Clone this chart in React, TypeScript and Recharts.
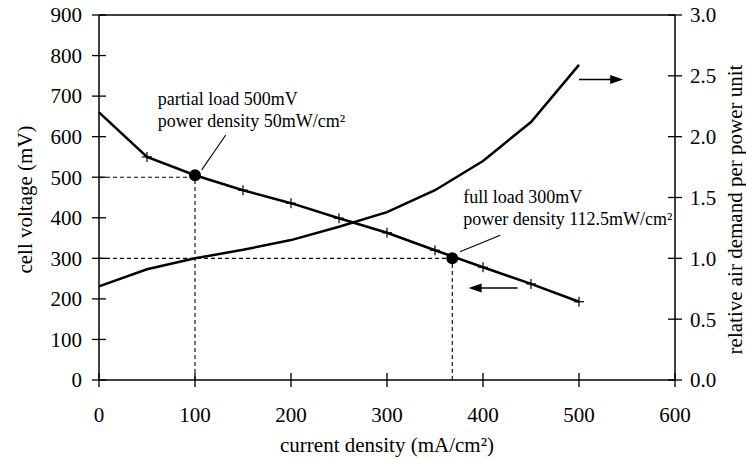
import { ComposedChart, Line, XAxis, YAxis, ReferenceLine, ReferenceDot, Label } from 'recharts';

const FONT = '"Liberation Serif", "Times New Roman", serif';

// current density (mA/cm²)
const currentDensity = [0, 50, 100, 150, 200, 250, 300, 350, 400, 450, 500];
// cell voltage (mV), left axis
const cellVoltage = [660, 550, 505, 468, 436, 399, 363, 320, 278, 237, 193];
// relative air demand per power unit, right axis
const airDemand = [0.77, 0.91, 1.0, 1.07, 1.15, 1.26, 1.38, 1.56, 1.8, 2.12, 2.59];

const xTicks = [0, 100, 200, 300, 400, 500, 600];
const leftTicks = [0, 100, 200, 300, 400, 500, 600, 700, 800, 900];
const rightTicks = [0, 0.5, 1, 1.5, 2, 2.5, 3];

// operating points: partial load, full load
const opCurrent = [100, 368];
const opVoltage = [505, 300];
const opLevel = [500, 300];

const data = currentDensity.map((c, i) => ({
  current: c,
  voltage: cellVoltage[i],
  air: airDemand[i],
}));

const LeftTick = ({ x, y, payload }: any) => {
  const ax = x + 17;
  return (
    <g>
      <line x1={ax - 7} x2={ax + 7} y1={y} y2={y} stroke="#000" strokeWidth={1.3} />
      <text x={x} y={y} dy="0.35em" textAnchor="end" fontSize={21} fontFamily={FONT} fill="#000">
        {payload.value}
      </text>
    </g>
  );
};

const RightTick = ({ x, y, payload }: any) => {
  const ax = x - 15;
  return (
    <g>
      <line x1={ax - 7} x2={ax + 7} y1={y} y2={y} stroke="#000" strokeWidth={1.3} />
      <text x={x} y={y} dy="0.35em" textAnchor="start" fontSize={21} fontFamily={FONT} fill="#000">
        {Number(payload.value).toFixed(1)}
      </text>
    </g>
  );
};

const BottomTick = ({ x, y, payload }: any) => {
  const ay = y - 27;
  return (
    <g>
      <line x1={x} x2={x} y1={ay - 7} y2={ay + 7} stroke="#000" strokeWidth={1.3} />
      <text x={x} y={y} dy="0.71em" textAnchor="middle" fontSize={21} fontFamily={FONT} fill="#000">
        {payload.value}
      </text>
    </g>
  );
};

const PlusDot = ({ cx, cy, index }: any) => {
  if (index === 0 || cx == null) return <g key={`p-${index}`} />;
  return (
    <g key={`p-${index}`}>
      <line x1={cx - 5} x2={cx + 5} y1={cy} y2={cy} stroke="#000" strokeWidth={1.2} />
      <line x1={cx} x2={cx} y1={cy - 5} y2={cy + 5} stroke="#000" strokeWidth={1.2} />
    </g>
  );
};

const callout = (lines: string[], dx: number, dy: number) => (props: any) => (
  <g>
    <line x1={props.x1} y1={props.y1} x2={props.x2} y2={props.y2} stroke="#000" strokeWidth={1.1} />
    {lines.map((t, i) => (
      <text key={i} x={props.x2 + dx} y={props.y2 + dy + i * 22} fontSize={18} fontFamily={FONT} fill="#000">
        {t}
      </text>
    ))}
  </g>
);

const arrow = (props: any) => {
  const { x1, y1, x2, y2 } = props;
  const dir = x2 > x1 ? 1 : -1;
  return (
    <g>
      <line x1={x1} y1={y1} x2={x2 - dir * 10} y2={y2} stroke="#000" strokeWidth={1.4} />
      <polygon points={`${x2},${y2} ${x2 - dir * 13},${y2 - 4.5} ${x2 - dir * 13},${y2 + 4.5}`} fill="#000" />
    </g>
  );
};

const AxisTitleLeft = ({ viewBox }: any) => {
  const cx = 25;
  const cy = viewBox.y + viewBox.height / 2 + 2;
  return (
    <text x={cx} y={cy} transform={`rotate(-90 ${cx} ${cy})`} textAnchor="middle" dominantBaseline="central" fontSize={21} fontFamily={FONT} fill="#000">
      cell voltage (mV)
    </text>
  );
};

const AxisTitleRight = ({ viewBox }: any) => {
  const cx = 735;
  const cy = viewBox.y + viewBox.height / 2 + 12;
  return (
    <text x={cx} y={cy} transform={`rotate(-90 ${cx} ${cy})`} textAnchor="middle" dominantBaseline="central" fontSize={21} fontFamily={FONT} fill="#000">
      relative air demand per power unit
    </text>
  );
};

const AxisTitleBottom = ({ viewBox }: any) => (
  <text x={viewBox.x + viewBox.width / 2} y={452} textAnchor="middle" fontSize={21} fontFamily={FONT} fill="#000">
    current density (mA/cm²)
  </text>
);

export default function App() {
  return (
    <div style={{ position: 'absolute', left: 0, top: 0, width: 746, height: 459, background: '#fff' }}>
      <ComposedChart width={746} height={459} data={data} margin={{ top: 15, right: 0, bottom: 0, left: 0 }}>
        <XAxis
          dataKey="current"
          type="number"
          domain={[0, 600]}
          ticks={xTicks}
          height={79}
          tickSize={7}
          tickMargin={20}
          tickLine={false}
          tick={<BottomTick />}
          axisLine={{ stroke: '#000', strokeWidth: 1.5 }}
        >
          <Label content={<AxisTitleBottom />} />
        </XAxis>
        <YAxis
          yAxisId="left"
          domain={[0, 900]}
          ticks={leftTicks}
          width={99}
          tickSize={7}
          tickMargin={10}
          tickLine={false}
          tick={<LeftTick />}
          axisLine={{ stroke: '#000', strokeWidth: 1.5 }}
        >
          <Label content={<AxisTitleLeft />} />
        </YAxis>
        <YAxis
          yAxisId="right"
          orientation="right"
          domain={[0, 3]}
          ticks={rightTicks}
          width={71}
          tickSize={7}
          tickMargin={8}
          tickLine={false}
          tick={<RightTick />}
          axisLine={{ stroke: '#000', strokeWidth: 1.5 }}
        >
          <Label content={<AxisTitleRight />} />
        </YAxis>

        <ReferenceLine yAxisId="left" y={900} stroke="#000" strokeWidth={1.5} />

        {opCurrent.map((c, i) => (
          <ReferenceLine
            key={`h-${i}`}
            yAxisId="left"
            segment={[{ x: 0, y: opLevel[i] }, { x: c, y: opLevel[i] }]}
            stroke="#000"
            strokeWidth={1.1}
            strokeDasharray="4 3"
          />
        ))}
        {opCurrent.map((c, i) => (
          <ReferenceLine
            key={`v-${i}`}
            yAxisId="left"
            segment={[{ x: c, y: 0 }, { x: c, y: opLevel[i] }]}
            stroke="#000"
            strokeWidth={1.1}
            strokeDasharray="4 3"
          />
        ))}

        <Line
          yAxisId="right"
          type="linear"
          dataKey="air"
          stroke="#000"
          strokeWidth={2.5}
          dot={false}
          activeDot={false}
          isAnimationActive={false}
        />
        <Line
          yAxisId="left"
          type="linear"
          dataKey="voltage"
          stroke="#000"
          strokeWidth={2.5}
          dot={<PlusDot />}
          activeDot={false}
          isAnimationActive={false}
        />

        {opCurrent.map((c, i) => (
          <ReferenceDot key={`d-${i}`} yAxisId="left" x={c} y={opVoltage[i]} r={6} fill="#000" stroke="none" />
        ))}

        <ReferenceLine
          yAxisId="left"
          segment={[{ x: 107, y: 518 }, { x: 132, y: 604 }]}
          shape={callout(['partial load 500mV', 'power density 50mW/cm²'], -68, -30)}
        />
        <ReferenceLine
          yAxisId="left"
          segment={[{ x: 376, y: 316 }, { x: 418, y: 357 }]}
          shape={callout(['full load 300mV', 'power density 112.5mW/cm²'], -37, -32)}
        />

        <ReferenceLine yAxisId="right" segment={[{ x: 500, y: 2.47 }, { x: 546, y: 2.47 }]} shape={arrow} />
        <ReferenceLine yAxisId="left" segment={[{ x: 436, y: 227 }, { x: 385, y: 227 }]} shape={arrow} />
      </ComposedChart>
    </div>
  );
}
